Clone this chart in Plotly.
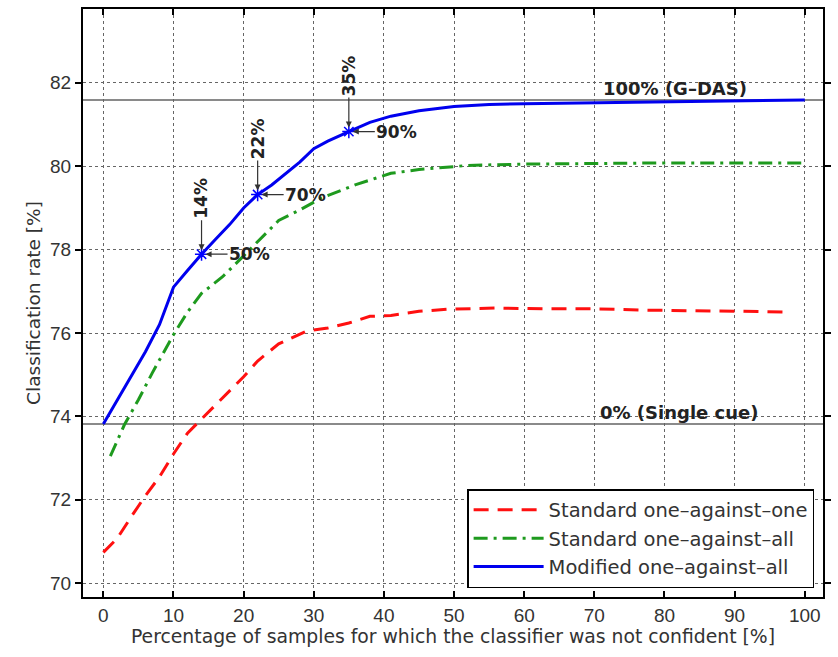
import plotly.graph_objects as go

# Classification rate vs. share of samples where the classifier was not confident
red_x = [0, 2, 4, 6, 8, 10, 12, 14, 17, 20, 22, 25, 29, 32, 35, 38, 41, 45, 49, 56, 63, 70, 77, 84, 91, 98]
red_y = [70.74, 71.08, 71.6, 72.1, 72.55, 73.1, 73.6, 73.94, 74.45, 74.95, 75.33, 75.74, 76.05, 76.12,
         76.24, 76.4, 76.42, 76.52, 76.57, 76.6, 76.58, 76.58, 76.55, 76.54, 76.52, 76.5]

green_x = [1, 3, 5, 7, 10, 12, 14, 17, 20, 22, 25, 28, 31, 36, 41, 45, 52, 60, 70, 80, 90, 100]
green_y = [73.05, 73.8, 74.4, 75.05, 75.96, 76.5, 76.95, 77.35, 77.85, 78.2, 78.7, 78.95, 79.23,
           79.56, 79.83, 79.92, 80.02, 80.05, 80.07, 80.08, 80.08, 80.08]

blue_x = [0, 2, 4, 6, 8, 10, 12, 14, 16, 18, 20, 22, 24, 26, 28, 30, 32, 35, 38, 41, 45, 50, 55, 60,
          70, 80, 90, 100]
blue_y = [73.82, 74.4, 74.95, 75.55, 76.2, 77.1, 77.5, 77.89, 78.25, 78.6, 79.0, 79.32, 79.55, 79.82,
          80.1, 80.42, 80.6, 80.83, 81.05, 81.2, 81.33, 81.43, 81.48, 81.5, 81.52, 81.55, 81.57, 81.59]

series_names = ["Standard one\u2013against\u2013one", "Standard one\u2013against\u2013all",
                "Modified one\u2013against\u2013all"]

single_cue = 73.82
g_das = 81.59

# marked operating points on the modified curve: (x, y, share of samples, share of gain)
mark_x = [14, 22, 35]
mark_y = [77.89, 79.32, 80.83]
mark_samples = ["14%", "22%", "35%"]
mark_gain = ["50%", "70%", "90%"]

x_ticks = [0, 10, 20, 30, 40, 50, 60, 70, 80, 90, 100]
y_ticks = [70, 72, 74, 76, 78, 80, 82]

TICK_FONT = "Liberation Sans, Arial, Helvetica, sans-serif"
TEXT_FONT = "DejaVu Sans, Verdana, sans-serif"

fig = go.Figure()

# reference levels
for lvl in (g_das, single_cue):
    fig.add_shape(type="line", xref="paper", x0=0, x1=1, yref="y", y0=lvl, y1=lvl,
                  line=dict(color="#8a8a8a", width=2), layer="below")

fig.add_trace(go.Scatter(x=red_x, y=red_y, mode="lines", name=series_names[0],
                         line=dict(color="#ff1010", width=3, dash="15px,9px")))
fig.add_trace(go.Scatter(x=green_x, y=green_y, mode="lines", name=series_names[1],
                         line=dict(color="#1e9a1e", width=3, dash="14px,6px,3px,6px")))
fig.add_trace(go.Scatter(x=blue_x, y=blue_y, mode="lines", name=series_names[2],
                         line=dict(color="#0000ee", width=3)))
fig.add_trace(go.Scatter(x=mark_x, y=mark_y, mode="markers", showlegend=False,
                         marker=dict(symbol="asterisk-open", size=11, color="#0000ff",
                                     line=dict(color="#0000ff", width=1.5))))

for x, y, s, g in zip(mark_x, mark_y, mark_samples, mark_gain):
    fig.add_annotation(x=x, y=y, text="<b>%s</b>" % s, textangle=-90, showarrow=True,
                       ax=0, ay=-56, arrowhead=2, arrowsize=1, arrowwidth=1.2,
                       arrowcolor="#333333", standoff=4,
                       font=dict(family=TEXT_FONT, size=17, color="#222222"))
    fig.add_annotation(x=x, y=y, text="<b>%s</b>" % g, showarrow=True,
                       ax=48, ay=0, arrowhead=2, arrowsize=1, arrowwidth=1.2,
                       arrowcolor="#333333", standoff=4,
                       font=dict(family=TEXT_FONT, size=17, color="#222222"))

fig.add_annotation(x=81.5, y=g_das, text="<b>100% (G\u2013DAS)</b>", showarrow=False,
                   yanchor="bottom", xanchor="center", yshift=-1,
                   font=dict(family=TEXT_FONT, size=18, color="#222222"))
fig.add_annotation(x=82.1, y=single_cue, text="<b>0% (Single cue)</b>", showarrow=False,
                   yanchor="bottom", xanchor="center", yshift=-1,
                   font=dict(family=TEXT_FONT, size=18, color="#222222"))

axis_common = dict(showline=True, linecolor="black", linewidth=2, mirror="allticks",
                   showgrid=True, gridcolor="#666666", gridwidth=1, griddash="dot",
                   zeroline=False, tickcolor="black", ticklen=6, tickwidth=2,
                   tickfont=dict(family=TICK_FONT, size=19, color="#333333"))

fig.update_xaxes(range=[-2.9, 102.6], tickvals=x_ticks, ticks="inside",
                 title=dict(text="Percentage of samples for which the classifier was not confident [%]",
                            font=dict(family=TEXT_FONT, size=18.8, color="#333333"), standoff=4),
                 **axis_common)
fig.update_yaxes(range=[69.67, 83.77], tickvals=y_ticks, ticks="outside",
                 title=dict(text="Classification rate [%]",
                            font=dict(family=TEXT_FONT, size=18.5, color="#333333"), standoff=5),
                 **axis_common)

fig.update_layout(
    width=838, height=657,
    margin=dict(l=83, r=11, t=7, b=60),
    paper_bgcolor="white", plot_bgcolor="white",
    legend=dict(x=0.988, y=0.015, xanchor="right", yanchor="bottom",
                bgcolor="white", bordercolor="black", borderwidth=1.5,
                font=dict(family=TEXT_FONT, size=19.5, color="#333333"),
                itemwidth=70, tracegroupgap=0),
)

fig.write_html("out.html")
